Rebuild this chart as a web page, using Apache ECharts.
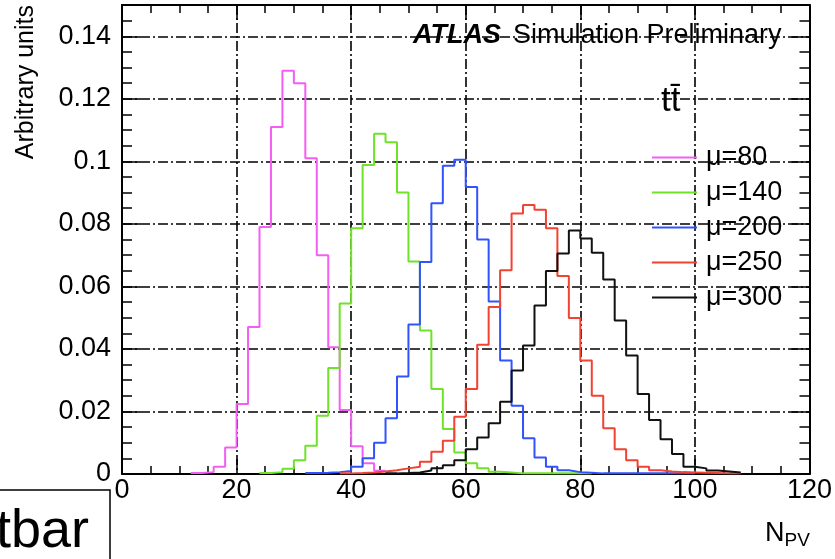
<!DOCTYPE html>
<html>
<head>
<meta charset="utf-8">
<script src="https://cdn.jsdelivr.net/npm/echarts@6/dist/echarts.min.js"></script>
<style>
  html, body { margin: 0; padding: 0; background: #fff; }
  #chart { width: 835px; height: 559px; }
</style>
</head>
<body>
<div id="chart"></div>
<script>
    // bin width of all histograms, N_PV
    var binWidth = 2;

    var seriesNames = ['μ=80', 'μ=140', 'μ=200', 'μ=250', 'μ=300'];
    var seriesColors = ['#f45ef4', '#6fe22a', '#3152ff', '#f24232', '#111111'];

    // first bin low edge of each histogram
    var mu80Start = 12;
    var mu140Start = 24;
    var mu200Start = 32;
    var mu250Start = 38;
    var mu300Start = 46;

    var mu80 = [0.0003, 0.0006, 0.0023, 0.0085, 0.0224, 0.047, 0.079, 0.111, 0.129, 0.125,
        0.101, 0.070, 0.0405, 0.0205, 0.0089, 0.0034, 0.001];
    var mu140 = [0.0003, 0.0006, 0.0017, 0.0044, 0.009, 0.0186, 0.0339, 0.0545, 0.0786, 0.0988,
        0.1088, 0.1061, 0.090, 0.068, 0.0459, 0.0272, 0.0144, 0.0069, 0.0034, 0.0018,
        0.0007, 0.0005, 0.0002, 0.0002, 0.0002, 0.0002, 0.0002, 0.0002, 0.0002];
    var mu200 = [0.0003, 0.0004, 0.0006, 0.001, 0.0023, 0.005, 0.010, 0.0178, 0.0312, 0.0478,
        0.0678, 0.0866, 0.0986, 0.1005, 0.0918, 0.075, 0.0552, 0.0363, 0.0218, 0.0114,
        0.0053, 0.0023, 0.0012, 0.0006, 0.0004, 0.0002, 0.0002, 0.0002, 0.0002, 0.0002,
        0.0002, 0.0002, 0.0002, 0.0002];
    var mu250 = [0.0002, 0.0003, 0.0005, 0.0008, 0.0012, 0.0018, 0.0023, 0.0039, 0.0071, 0.0106,
        0.0183, 0.0272, 0.0413, 0.0534, 0.0652, 0.0833, 0.086, 0.0845, 0.0786, 0.0633,
        0.0499, 0.0363, 0.025, 0.0146, 0.0079, 0.0044, 0.0023, 0.0012, 0.0008, 0.0006,
        0.0005, 0.0004, 0.0003, 0.0002, 0.0002];
    var mu300 = [0.0002, 0.0003, 0.0005, 0.0011, 0.0018, 0.0028, 0.0044, 0.0079, 0.0117, 0.0162,
        0.0231, 0.0331, 0.0411, 0.0539, 0.0649, 0.0705, 0.0779, 0.0753, 0.0708, 0.0622,
        0.0491, 0.0379, 0.0256, 0.0173, 0.0111, 0.0064, 0.0023, 0.0018, 0.0011, 0.0008,
        0.0005];

    var starts = [mu80Start, mu140Start, mu200Start, mu250Start, mu300Start];
    var values = [mu80, mu140, mu200, mu250, mu300];

    var FONT = 'Liberation Sans';

    // histogram as step line: one point per bin low edge, plus closing edge
    function histPoints(start, vals) {
        var pts = [];
        for (var i = 0; i < vals.length; i++) {
            pts.push([start + i * binWidth, vals[i]]);
        }
        pts.push([start + vals.length * binWidth, vals[vals.length - 1]]);
        return pts;
    }

    var gridLine = {
        show: true,
        lineStyle: {color: '#000', width: 1.6, type: [10, 3, 2, 3]}
    };

    function makeAxis(pos, isX) {
        var main = (pos === 'bottom' || pos === 'left');
        return {
            type: 'value',
            position: pos,
            min: 0,
            max: isX ? 120 : 0.15,
            interval: isX ? 20 : 0.02,
            axisLine: {show: true, onZero: false, lineStyle: {color: '#000', width: 2}},
            axisTick: {show: true, inside: true, length: isX ? 15 : 18, lineStyle: {color: '#000', width: 1.5}},
            minorTick: {show: true, splitNumber: 4, length: isX ? 8 : 10, lineStyle: {color: '#000', width: 1.5}},
            splitLine: main ? gridLine : {show: false},
            axisLabel: {
                show: main,
                showMaxLabel: isX,
                margin: isX ? 3 : 11,
                color: '#000',
                fontFamily: FONT,
                fontSize: 27
            }
        };
    }

    var series = seriesNames.map(function (name, k) {
        return {
            name: name,
            type: 'line',
            step: 'end',
            symbol: 'none',
            xAxisIndex: 0,
            yAxisIndex: 0,
            lineStyle: {color: seriesColors[k], width: 2},
            itemStyle: {color: seriesColors[k]},
            data: histPoints(starts[k], values[k]),
            z: 3
        };
    });

    var option = {
        backgroundColor: '#fff',
        animation: false,
        grid: {left: 122, right: 25, top: 5, bottom: 85},
        xAxis: [makeAxis('bottom', true), makeAxis('top', true)],
        yAxis: [makeAxis('left', false), makeAxis('right', false)],
        legend: {
            data: seriesNames,
            orient: 'vertical',
            left: 647,
            top: 139,
            itemWidth: 45,
            itemHeight: 2,
            itemGap: 8,
            icon: 'rect',
            itemStyle: {borderWidth: 0},
            textStyle: {fontFamily: FONT, fontSize: 27, color: '#000', padding: [0, 0, 0, 4]}
        },
        graphic: [
            {
                type: 'text',
                left: 413, top: 22,
                style: {
                    text: '{a|ATLAS}{b|Simulation Preliminary}',
                    rich: {
                        a: {fontFamily: FONT, fontSize: 27, fontWeight: 'bold', fontStyle: 'italic', fill: '#000'},
                        b: {fontFamily: FONT, fontSize: 27, fill: '#000', padding: [0, 0, 0, 12]}
                    }
                },
                z: 10
            },
            {
                type: 'text',
                left: 661, top: 84,
                style: {text: 'tt\u0304', fontFamily: FONT, fontSize: 35, fill: '#000'},
                z: 10
            },
            {
                type: 'text',
                x: 14, y: 5,
                rotation: Math.PI / 2,
                style: {
                    text: 'Arbitrary units', fontFamily: FONT, fontSize: 25, fill: '#000',
                    align: 'right', verticalAlign: 'top'
                },
                z: 10
            },
            {
                type: 'text',
                left: 765, top: 520,
                style: {
                    text: '{n|N}{s|PV}',
                    rich: {
                        n: {fontFamily: FONT, fontSize: 27, fill: '#000'},
                        s: {fontFamily: FONT, fontSize: 19, fill: '#000', padding: [14, 0, 0, 0]}
                    }
                },
                z: 10
            },
            {
                type: 'rect',
                shape: {x: -5, y: 490, width: 115, height: 80},
                style: {fill: '#fff', stroke: '#000', lineWidth: 1.5},
                z: 20
            },
            {
                type: 'text',
                x: -4, y: 505,
                style: {text: 'tbar', fontFamily: FONT, fontSize: 54, fill: '#000', verticalAlign: 'top'},
                z: 21
            }
        ],
        series: series
    };

    var chart = echarts.init(document.getElementById('chart'));
    chart.setOption(option);
</script>
</body>
</html>
